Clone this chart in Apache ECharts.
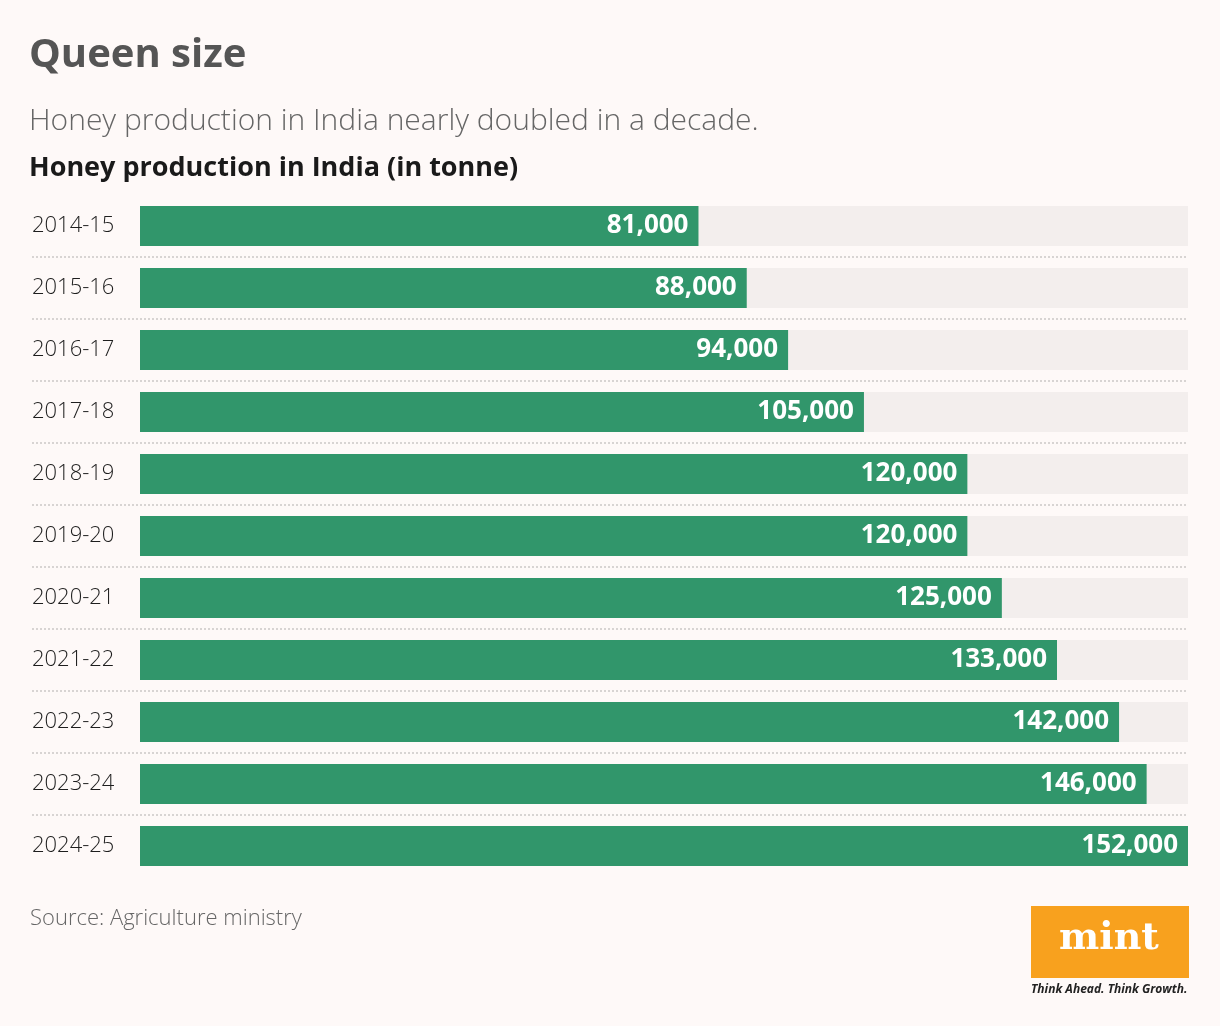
<!DOCTYPE html>
<html lang="en">
<head>
	<meta charset="UTF-8">
	<title>Queen size</title>
	<style>
		html,body{margin:0;padding:0;background:#fef9f8;}
	</style>
</head>
<body>
	<div id="bar_one" style="width:1220px;height:1026px;"></div>
</body>
</html>
<script src="https://cdn.jsdelivr.net/npm/echarts@6/dist/echarts.min.js"></script>
<script>
	// honey production, tonne
	var years = ["2014-15","2015-16","2016-17","2017-18","2018-19","2019-20","2020-21","2021-22","2022-23","2023-24","2024-25"];
	var production = [81000,88000,94000,105000,120000,120000,125000,133000,142000,146000,152000];
	var maxValue = 152000;

	var font = "'Open Sans','Noto Sans',sans-serif";

	function fmt(v){
		return String(v).replace(/\B(?=(\d{3})+(?!\d))/g, ',');
	}

	var myChart = echarts.init(document.getElementById('bar_one'));
	var option = {
		backgroundColor:'#fef9f8',
		animation:false,
		title:[
			{text:'Queen size',left:24,top:31,textStyle:{fontFamily:font,fontSize:40,fontWeight:'bold',color:'#555555'}},
			{text:'Honey production in India nearly doubled in a decade.',left:24,top:101,textStyle:{fontFamily:font,fontSize:30,fontWeight:300,color:'#666666'}},
			{text:'Honey production in India (in tonne)',left:24,top:150,textStyle:{fontFamily:font,fontSize:27,fontWeight:'bold',color:'#1a1a1a'}},
			{text:'Source: Agriculture ministry',left:25,top:903,textStyle:{fontFamily:font,fontSize:22,fontWeight:300,color:'#666666'}}
		],
		grid:[
			{left:32,right:32,top:195,bottom:149},
			{left:140,right:32,top:195,bottom:149}
		],
		xAxis:[
			{gridIndex:0,type:'value',min:0,max:1,show:false},
			{gridIndex:1,type:'value',min:0,max:maxValue,show:false}
		],
		yAxis:[
			{
				gridIndex:0,type:'category',inverse:true,data:years,
				axisLine:{show:false},axisTick:{show:false},axisLabel:{show:false},
				splitLine:{show:true,showMinLine:false,showMaxLine:false,lineStyle:{color:'#d8d4d3',width:2,type:[2,2]}}
			},
			{
				gridIndex:1,type:'category',inverse:true,data:years,
				axisLine:{show:false},axisTick:{show:false},splitLine:{show:false},
				axisLabel:{align:'left',margin:108,fontFamily:font,fontSize:22,fontWeight:300,color:'#1e1e1e'}
			}
		],
		series:[{
			type:'bar',
			xAxisIndex:1,
			yAxisIndex:1,
			data:production,
			barWidth:40,
			itemStyle:{color:'#31966b'},
			showBackground:true,
			backgroundStyle:{color:'#f3eeed'},
			label:{
				show:true,
				position:'insideRight',
				distance:10,
				color:'#ffffff',
				fontFamily:font,
				fontSize:26,
				fontWeight:'bold',
				formatter:function(p){ return fmt(p.value); }
			}
		}],
		graphic:[
			{type:'rect',left:1031,top:906,shape:{width:158,height:72},style:{fill:'#f8a11e'}},
			{type:'text',left:1059,top:920,style:{text:'mint',fill:'#ffffff',font:"bold 38px 'DejaVu Serif',serif"}},
			{type:'text',left:1031,top:984,style:{text:'Think Ahead. Think Growth.',fill:'#222222',font:"italic bold 12px "+font}}
		]
	};
	myChart.setOption(option);
</script>
